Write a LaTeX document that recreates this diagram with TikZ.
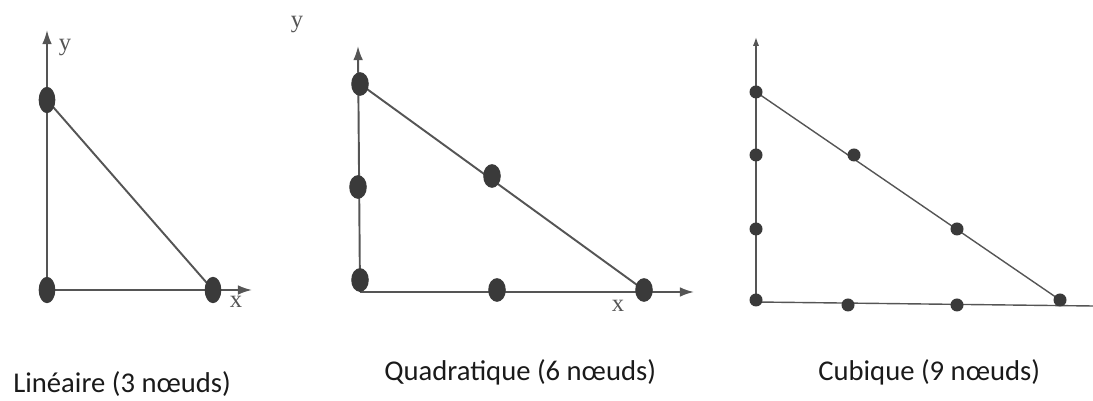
\documentclass[tikz,border=0pt]{standalone}
\usepackage{fontspec}
\setmainfont{Carlito}
\newfontfamily\axfont{Liberation Serif}
\usetikzlibrary{arrows.meta,shapes.geometric}
\definecolor{ln}{HTML}{555555}
\definecolor{dt}{HTML}{3A3A3A}
\definecolor{tx}{HTML}{1A1A1A}
\begin{document}
\begin{tikzpicture}[x=0.02cm,y=-0.02cm,
  edge/.style={draw=ln,line width=1.1pt},
  thinedge/.style={draw=ln,line width=0.8pt},
  axis/.style={draw=ln,line width=1.1pt,-{Latex[length=8pt,width=5.5pt]}},
  thinaxis/.style={draw=ln,line width=0.8pt,-{Latex[length=5pt,width=3.5pt]}},
  bigdot/.style={ellipse,fill=dt,inner sep=0pt,minimum width=9.5pt,minimum height=15pt},
  middot/.style={ellipse,fill=dt,inner sep=0pt,minimum width=10pt,minimum height=13.5pt},
  smalldot/.style={circle,fill=dt,inner sep=0pt,minimum size=7.4pt},
  axlabel/.style={font=\axfont\fontsize{14}{16}\selectfont,text=ln,inner sep=0pt},
  caption/.style={font=\fontsize{16.3}{19}\selectfont,text=tx,inner sep=0pt,anchor=west}]
\useasboundingbox (0,0) rectangle (1093,401);
% ---------- Linear ----------
\coordinate (a1) at (47,100);
\coordinate (a2) at (47,290);
\coordinate (a3) at (213,290);
\coordinate (ay) at (47,30);
\coordinate (ax) at (252,290);
\draw[axis] (a2) -- (ay);
\draw[axis] (a2) -- (ax);
\draw[edge] (a1) -- (a3);
\node[bigdot] (n1) at (a1) {};
\node[bigdot] (n2) at (a2) {};
\node[bigdot] (n3) at (a3) {};
\node[axlabel] (ly1) at (65,48) {y};
\node[axlabel] (lx1) at (236,302) {x};
% ---------- Quadratic ----------
\coordinate (b1) at (360,84);
\coordinate (b2) at (358,187);
\coordinate (b3) at (360,280);
\coordinate (b4) at (492,176);
\coordinate (b5) at (497,290);
\coordinate (b6) at (644,290);
\coordinate (by) at (358,46);
\coordinate (bx) at (694,292);
\coordinate (bo) at (360,292);
\draw[axis] (bo) -- (by);
\draw[axis] (bo) -- (bx);
\draw[edge] (b1) -- (b6);
\foreach \i in {1,...,6} \node[middot] (q\i) at (b\i) {};
\node[axlabel] (ly2) at (297,25) {y};
\node[axlabel] (lx2) at (618,306) {x};
% ---------- Cubic ----------
\coordinate (c1) at (756,92);
\coordinate (c2) at (756,155);
\coordinate (c3) at (756,229);
\coordinate (c4) at (756,300);
\coordinate (c5) at (854,155);
\coordinate (c6) at (957,229);
\coordinate (c7) at (1060,300);
\coordinate (c8) at (848,305);
\coordinate (c9) at (957,305);
\coordinate (cy) at (756,37);
\coordinate (cx) at (1093,306);
\coordinate (co) at (756,302);
\draw[thinaxis] (co) -- (cy);
\draw[thinedge] (co) -- (cx);
\draw[thinedge] (c1) -- (c7);
\foreach \i in {1,...,9} \node[smalldot] (k\i) at (c\i) {};
% ---------- captions ----------
\node[caption] (t1) at (13,384) {Linéaire (3 nœuds)};
\node[caption] (t2) at (384,372) {Quadratique (6 nœuds)};
\node[caption] (t3) at (818,372) {Cubique (9 nœuds)};
\end{tikzpicture}
\end{document}
